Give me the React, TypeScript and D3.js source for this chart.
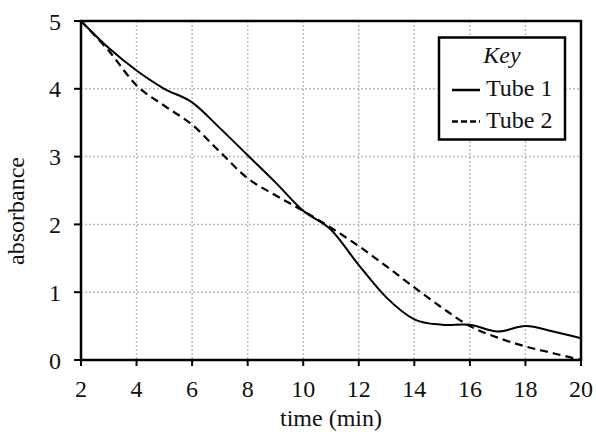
import React from "react";
import * as d3 from "d3";

const times = [2, 3, 4, 5, 6, 7, 8, 9, 10, 11, 12, 13, 14, 15, 16, 17, 18, 19, 20];
const tube1 = [5, 4.6, 4.27, 4.0, 3.8, 3.42, 3.02, 2.62, 2.2, 1.92, 1.4, 0.92, 0.6, 0.52, 0.52, 0.42, 0.5, 0.42, 0.32];
const tube2 = [5, 4.56, 4.05, 3.75, 3.47, 3.07, 2.68, 2.43, 2.2, 1.95, 1.68, 1.38, 1.07, 0.77, 0.5, 0.33, 0.2, 0.1, 0.0];
const xTicks = [2, 4, 6, 8, 10, 12, 14, 16, 18, 20];
const yTicks = [0, 1, 2, 3, 4, 5];
const seriesNames = ["Tube 1", "Tube 2"];

const W = 596, H = 432;
const M = { left: 81, right: 581, top: 21, bottom: 360 };
const FONT = "Liberation Serif, Times New Roman, DejaVu Serif, serif";
const txt = { fontFamily: FONT, fill: "#111" } as React.CSSProperties;

export default function App() {
  const x = d3.scaleLinear().domain([2, 20]).range([M.left, M.right]);
  const y = d3.scaleLinear().domain([0, 5]).range([M.bottom, M.top]);
  const line = d3
    .line<number>()
    .x((_, i) => x(times[i]))
    .y((d) => y(d))
    .curve(d3.curveCardinal.tension(0));

  return (
    <svg width={W} height={H} style={{ position: "absolute", left: 0, top: 0, background: "#fff" }}>
      <rect x={0} y={0} width={W} height={H} fill="#fff" />
      {xTicks.filter((t) => t > 2 && t < 20).map((t) => (
        <line key={"gx" + t} x1={x(t)} x2={x(t)} y1={M.top} y2={M.bottom} stroke="#bdbdbd" strokeWidth={1.5} strokeDasharray="2,2" />
      ))}
      {yTicks.filter((t) => t > 0 && t < 5).map((t) => (
        <line key={"gy" + t} x1={M.left} x2={M.right} y1={y(t)} y2={y(t)} stroke="#bdbdbd" strokeWidth={1.5} strokeDasharray="2,2" />
      ))}
      <path d={line(tube1) || ""} fill="none" stroke="#000" strokeWidth={2} />
      <path d={line(tube2) || ""} fill="none" stroke="#000" strokeWidth={2.2} strokeDasharray="8,5" />
      <rect x={M.left} y={M.top} width={M.right - M.left} height={M.bottom - M.top} fill="none" stroke="#000" strokeWidth={2.5} />
      {yTicks.map((t) => (
        <g key={"yt" + t}>
          <line x1={M.left - 7} x2={M.left} y1={y(t)} y2={y(t)} stroke="#000" strokeWidth={2} />
          <text x={61} y={y(t) + 8.5} textAnchor="end" fontSize={24} style={txt}>{t}</text>
        </g>
      ))}
      {xTicks.map((t) => (
        <g key={"xt" + t}>
          <line x1={x(t)} x2={x(t)} y1={M.bottom} y2={M.bottom + 6} stroke="#000" strokeWidth={2} />
          <text x={x(t)} y={396.5} textAnchor="middle" fontSize={24} style={txt}>{t}</text>
        </g>
      ))}
      <text x={331} y={426} textAnchor="middle" fontSize={24} style={txt}>time (min)</text>
      <text transform="translate(24,211) rotate(-90)" textAnchor="middle" fontSize={24} style={txt}>absorbance</text>
      <rect x={439} y={37.5} width={126} height={102} fill="#fff" stroke="#000" strokeWidth={2.5} />
      <text x={502} y={63} textAnchor="middle" fontSize={24} fontStyle="italic" style={txt}>Key</text>
      <line x1={452} x2={480} y1={90} y2={90} stroke="#000" strokeWidth={2.5} />
      <text x={486} y={96} fontSize={24} style={txt}>{seriesNames[0]}</text>
      <line x1={452} x2={480} y1={121.5} y2={121.5} stroke="#000" strokeWidth={2.5} strokeDasharray="6,3" />
      <text x={486} y={128} fontSize={24} style={txt}>{seriesNames[1]}</text>
    </svg>
  );
}
